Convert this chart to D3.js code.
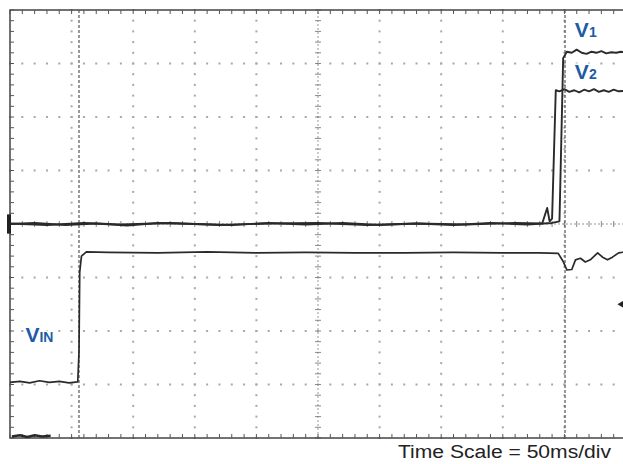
<!DOCTYPE html>
<html>
<head>
<meta charset="utf-8">
<script src="https://cdn.jsdelivr.net/npm/d3@7"></script>
<style>
body { margin: 0; background: #fff; }
</style>
</head>
<body>
<div id="chart"></div>
<script>
// time in ms (50 ms/div, 10 div), level in divisions (8 div, 0 = centre)
var vinT = [0, 8, 16, 24, 32, 40, 48, 55, 56, 56.6, 58, 62, 80, 120, 160, 200, 240, 280, 320, 360, 400, 430,
            445, 449, 452, 456, 459, 463, 467, 471, 477, 481, 485, 489, 494, 500];
var vinV = [-2.96, -2.94, -2.97, -2.93, -2.96, -2.94, -2.97, -2.95, -2.4, -0.9, -0.6, -0.52, -0.53, -0.54, -0.52, -0.54, -0.53, -0.54, -0.54, -0.53, -0.54, -0.54,
            -0.55, -0.7, -0.86, -0.85, -0.67, -0.64, -0.71, -0.67, -0.54, -0.62, -0.67, -0.62, -0.54, -0.52];

var v1T = [0, 20, 45, 70, 95, 120, 150, 180, 210, 240, 270, 300, 330, 360, 390, 420, 440, 446, 449, 452, 456, 460, 464, 468, 472, 476, 480, 484, 488, 492, 496, 500];
var v1V = [0, 0.02, -0.02, 0.01, -0.03, 0.02, 0, -0.02, 0.02, -0.01, 0.02, -0.02, 0.01, -0.02, 0.02, -0.01, 0.02, 0.05, 3.1, 3.22, 3.2, 3.26, 3.2, 3.18, 3.22, 3.2, 3.23, 3.19, 3.21, 3.2, 3.22, 3.2];

var v2T = [0, 30, 60, 90, 130, 170, 210, 250, 290, 330, 370, 410, 432, 436, 438, 440, 443, 446, 450, 454, 458, 462, 466, 470, 474, 478, 482, 486, 490, 494, 500];
var v2V = [0.01, -0.02, 0.02, -0.01, 0.02, -0.02, 0.01, 0.02, -0.02, 0.01, -0.01, 0.02, 0.01, 0.3, 0.05, 0.1, 2.5, 2.48, 2.52, 2.47, 2.5, 2.46, 2.51, 2.48, 2.52, 2.47, 2.5, 2.47, 2.51, 2.48, 2.49];

// a trace sitting on the bottom edge of the screen
var clipT = [1.5, 8, 14, 20, 26, 33];
var clipV = [-3.97, -3.95, -3.98, -3.95, -3.97, -3.96];

var cursors = [56, 450.5];

var labels = [
    { main: "V", sub: "1", t: 458.5, v: 3.5 },
    { main: "V", sub: "2", t: 458.5, v: 2.71 },
    { main: "V", sub: "IN", t: 12.5, v: -2.21 }
];
var caption = "Time Scale = 50ms/div";

var W = 623, H = 464;
var x = d3.scaleLinear().domain([0, 500]).range([10, 626]);
var y = d3.scaleLinear().domain([-4, 4]).range([438, 10]);

var svg = d3.select("#chart").append("svg")
    .attr("width", W).attr("height", H);

var g = svg.append("g");

// dotted graticule
var majorT = d3.range(50, 500, 50).filter(function (t) { return t != 250; });
var majorV = d3.range(-3, 4, 1).filter(function (v) { return v != 0; });
var minorT = d3.range(0, 500.1, 10);
var minorV = d3.range(-4, 4.01, 0.2);

var dots = [];
majorT.forEach(function (t) { minorV.forEach(function (v) { dots.push([t, v]); }); });
majorV.forEach(function (v) { minorT.forEach(function (t) { dots.push([t, v]); }); });

g.selectAll("rect.dot")
    .data(dots)
    .enter().append("rect")
    .attr("class", "dot")
    .attr("x", function (d) { return x(d[0]) - 1; })
    .attr("y", function (d) { return y(d[1]) - 1; })
    .attr("width", 2).attr("height", 2)
    .style("fill", "#a8a8a8");

// centre axes with ticks
g.append("line")
    .attr("x1", x(250)).attr("x2", x(250)).attr("y1", y(-4)).attr("y2", y(4))
    .style("stroke", "#999").style("stroke-width", 1).style("stroke-dasharray", "2,2");
g.append("line")
    .attr("x1", x(0)).attr("x2", x(500)).attr("y1", y(0)).attr("y2", y(0))
    .style("stroke", "#999").style("stroke-width", 1).style("stroke-dasharray", "2,2");

g.selectAll("line.vtick")
    .data(minorV)
    .enter().append("line")
    .attr("x1", x(250) - 3).attr("x2", x(250) + 3)
    .attr("y1", function (d) { return y(d); }).attr("y2", function (d) { return y(d); })
    .style("stroke", "#888").style("stroke-width", 1);
g.selectAll("line.htick")
    .data(minorT)
    .enter().append("line")
    .attr("y1", y(0) - 3).attr("y2", y(0) + 3)
    .attr("x1", function (d) { return x(d); }).attr("x2", function (d) { return x(d); })
    .style("stroke", "#888").style("stroke-width", 1);

// frame with inward ticks
g.append("rect")
    .attr("x", x(0)).attr("y", y(4))
    .attr("width", x(500) - x(0)).attr("height", y(-4) - y(4))
    .style("fill", "none").style("stroke", "#444").style("stroke-width", 1.5);

g.selectAll("line.ttop")
    .data(minorT)
    .enter().append("line")
    .attr("x1", function (d) { return x(d); }).attr("x2", function (d) { return x(d); })
    .attr("y1", y(4)).attr("y2", y(4) + 4)
    .style("stroke", "#555").style("stroke-width", 1);
g.selectAll("line.tbot")
    .data(minorT)
    .enter().append("line")
    .attr("x1", function (d) { return x(d); }).attr("x2", function (d) { return x(d); })
    .attr("y1", y(-4)).attr("y2", y(-4) - 4)
    .style("stroke", "#555").style("stroke-width", 1);
g.selectAll("line.tleft")
    .data(minorV)
    .enter().append("line")
    .attr("y1", function (d) { return y(d); }).attr("y2", function (d) { return y(d); })
    .attr("x1", x(0)).attr("x2", x(0) + 4)
    .style("stroke", "#555").style("stroke-width", 1);

// cursors
g.selectAll("line.cursor")
    .data(cursors)
    .enter().append("line")
    .attr("x1", function (d) { return x(d); }).attr("x2", function (d) { return x(d); })
    .attr("y1", y(4)).attr("y2", y(-4))
    .style("stroke", "#555").style("stroke-width", 1.2).style("stroke-dasharray", "3,2");

// traces
function zip(ts, vs) { return ts.map(function (t, i) { return [t, vs[i]]; }); }
var line = d3.line()
    .x(function (d) { return x(d[0]); })
    .y(function (d) { return y(d[1]); });

var traces = [
    { pts: zip(vinT, vinV), w: 1.7 },
    { pts: zip(v2T, v2V), w: 1.9 },
    { pts: zip(v1T, v1V), w: 1.9 },
    { pts: zip(clipT, clipV), w: 2.5 }
];
g.selectAll("path.trace")
    .data(traces)
    .enter().append("path")
    .attr("class", "trace")
    .attr("d", function (d) { return line(d.pts); })
    .style("fill", "none")
    .style("stroke", "#2a2a2a")
    .style("stroke-width", function (d) { return d.w; })
    .style("stroke-linejoin", "round");

// ground marker on left edge and channel marker on right
g.append("rect")
    .attr("x", x(0) - 3).attr("y", y(0.18))
    .attr("width", 4).attr("height", y(-0.18) - y(0.18))
    .style("fill", "#222");
g.append("path")
    .attr("d", "M" + (x(493) + 7) + "," + (y(-1.5) - 4) + " L" + x(493) + "," + y(-1.5) + " L" + (x(493) + 7) + "," + (y(-1.5) + 4) + "Z")
    .style("fill", "#222");

// labels (white halo hides the grid dots under them)
var lab = svg.selectAll("text.lab")
    .data(labels)
    .enter().append("text")
    .attr("class", "lab")
    .attr("x", function (d) { return x(d.t); })
    .attr("y", function (d) { return y(d.v); })
    .style("font-family", "'Liberation Sans', Arial, sans-serif")
    .style("font-weight", "bold")
    .style("fill", "#1d5ba6")
    .style("stroke", "#fff")
    .style("stroke-width", 3)
    .style("paint-order", "stroke");
lab.append("tspan").style("font-size", "21px").text(function (d) { return d.main; });
lab.append("tspan").style("font-size", "14px").text(function (d) { return d.sub; });

svg.append("text")
    .attr("x", 398).attr("y", 458)
    .attr("textLength", 213).attr("lengthAdjust", "spacingAndGlyphs")
    .style("font-family", "'Liberation Sans', Arial, sans-serif")
    .style("font-size", "18px")
    .style("fill", "#222")
    .text(caption);
</script>
</body>
</html>
